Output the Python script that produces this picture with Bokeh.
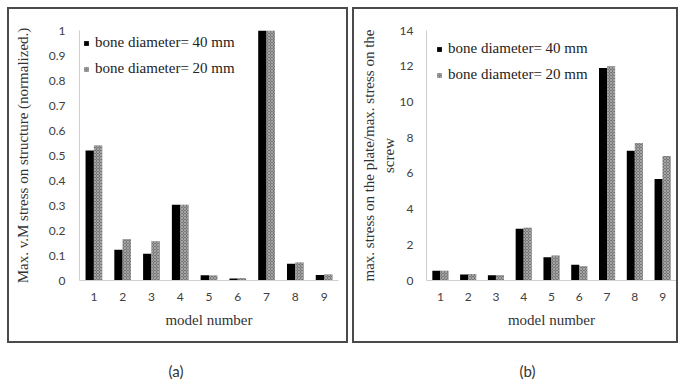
from bokeh.plotting import figure
from bokeh.models import (FactorRange, Range1d, FixedTicker, Legend, LegendItem,
                          Div, ColumnDataSource)
from bokeh.layouts import row, column
from bokeh.transform import dodge
from bokeh.embed import file_html
from bokeh.resources import INLINE

models = ["1", "2", "3", "4", "5", "6", "7", "8", "9"]

# (a) Max. v.M stress on structure (normalized)
vm_40mm = [0.52, 0.123, 0.107, 0.303, 0.021, 0.008, 1.0, 0.067, 0.022]
vm_20mm = [0.54, 0.165, 0.157, 0.303, 0.020, 0.010, 1.0, 0.072, 0.024]

# (b) max. stress on plate / max. stress on screw
ratio_40mm = [0.54, 0.34, 0.30, 2.90, 1.30, 0.88, 11.9, 7.26, 5.68]
ratio_20mm = [0.54, 0.36, 0.30, 2.95, 1.40, 0.80, 12.0, 7.70, 6.97]

yticks_a = [0, 0.1, 0.2, 0.3, 0.4, 0.5, 0.6, 0.7, 0.8, 0.9, 1]
ytick_labels_a = ["0", "0.1", "0.2", "0.3", "0.4", "0.5", "0.6", "0.7", "0.8", "0.9", "1"]
yticks_b = [0, 2, 4, 6, 8, 10, 12, 14]
ytick_labels_b = ["0", "2", "4", "6", "8", "10", "12", "14"]

series_labels = ["bone diameter= 40 mm", "bone diameter= 20 mm"]
ylabel_a = "Max. v.M stress on structure (normalized.)"
ylabel_b = "max. stress on the plate/max. stress on the\nscrew"
xlabel = "model number"

SERIF = "Liberation Serif"
SANS = "Lato"
H = 336


def panel(v40, v20, ymax, yticks, ylabels, ylabel, w, mb_left, mb_right,
          ystandoff, ylab_standoff, leg_margin, leg_padding, css):
    src = ColumnDataSource(dict(model=models, d40=v40, d20=v20))
    p = figure(x_range=FactorRange(*models), y_range=Range1d(0, ymax),
               width=w, height=H, output_backend="svg", toolbar_location=None,
               min_border_left=mb_left, min_border_top=21,
               min_border_right=mb_right, min_border_bottom=65,
               styles=css)
    r1 = p.vbar(x=dodge("model", -0.145, range=p.x_range), top="d40", width=0.29,
                source=src, fill_color="black", line_color=None)
    r2 = p.vbar(x=dodge("model", 0.145, range=p.x_range), top="d20", width=0.29,
                source=src, fill_color="#777777", line_color=None,
                hatch_pattern="diagonal_cross", hatch_scale=3, hatch_weight=0.8,
                hatch_color="#b0b0b0")
    p.xgrid.visible = False
    p.ygrid.visible = False
    p.outline_line_color = None
    p.background_fill_color = "white"
    p.border_fill_color = "white"

    p.yaxis.ticker = FixedTicker(ticks=yticks)
    p.yaxis.major_label_overrides = {t: l for t, l in zip(yticks, ylabels)}
    for ax in (p.xaxis, p.yaxis):
        ax.major_tick_line_color = None
        ax.minor_tick_line_color = None
        ax.major_tick_out = 0
        ax.major_tick_in = 0
        ax.axis_line_color = "#cfcfcf"
        ax.axis_line_width = 1
        ax.major_label_text_font = SANS
        ax.major_label_text_font_size = "12px"
        ax.major_label_text_color = "#404040"
        ax.axis_label_text_font = SERIF
        ax.axis_label_text_font_size = "15px"
        ax.axis_label_text_font_style = "normal"
        ax.axis_label_text_color = "#333333"
    p.yaxis.major_label_standoff = ystandoff
    p.yaxis.axis_label = ylabel
    p.yaxis.axis_label_standoff = ylab_standoff
    p.xaxis.major_label_standoff = 12
    p.xaxis.axis_label = xlabel
    p.xaxis.axis_label_standoff = 8

    legend = Legend(items=[LegendItem(label=series_labels[0], renderers=[r1]),
                           LegendItem(label=series_labels[1], renderers=[r2])],
                    location="top_left", margin=leg_margin, padding=leg_padding,
                    spacing=9, glyph_width=6, glyph_height=6, label_standoff=6,
                    label_text_font=SERIF, label_text_font_size="15px",
                    label_text_color="#222222",
                    border_line_color=None, background_fill_alpha=0)
    p.add_layout(legend)
    return p


css_a = {"border": "2px solid #4a4a4a", "margin-left": "7px", "margin-top": "7px"}
css_b = {"border": "2px solid #4a4a4a", "margin-left": "4px", "margin-top": "7px"}

pa = panel(vm_40mm, vm_20mm, 1, yticks_a, ytick_labels_a, ylabel_a,
           341, 70, 12, 14, 15, 4, 5, css_a)
pb = panel(ratio_40mm, ratio_20mm, 14, yticks_b, ytick_labels_b, ylabel_b,
           326, 72, 4, 13, 0, 10, 5, css_b)


def cap(txt, w, pad_left):
    return Div(text=('<div style="width:%dpx;box-sizing:border-box;padding-left:%dpx;'
                     'text-align:center;font-family:Lato,sans-serif;font-size:15px;'
                     'color:#333;padding-top:19px;line-height:18px">%s</div>'
                     % (w, pad_left, txt)), width=w, height=39, margin=0)


layout = column(row(pa, pb),
                row(cap("(a)", 352, 0), cap("(b)", 337, 14)))

open("out.html", "w").write(file_html(layout, INLINE))
